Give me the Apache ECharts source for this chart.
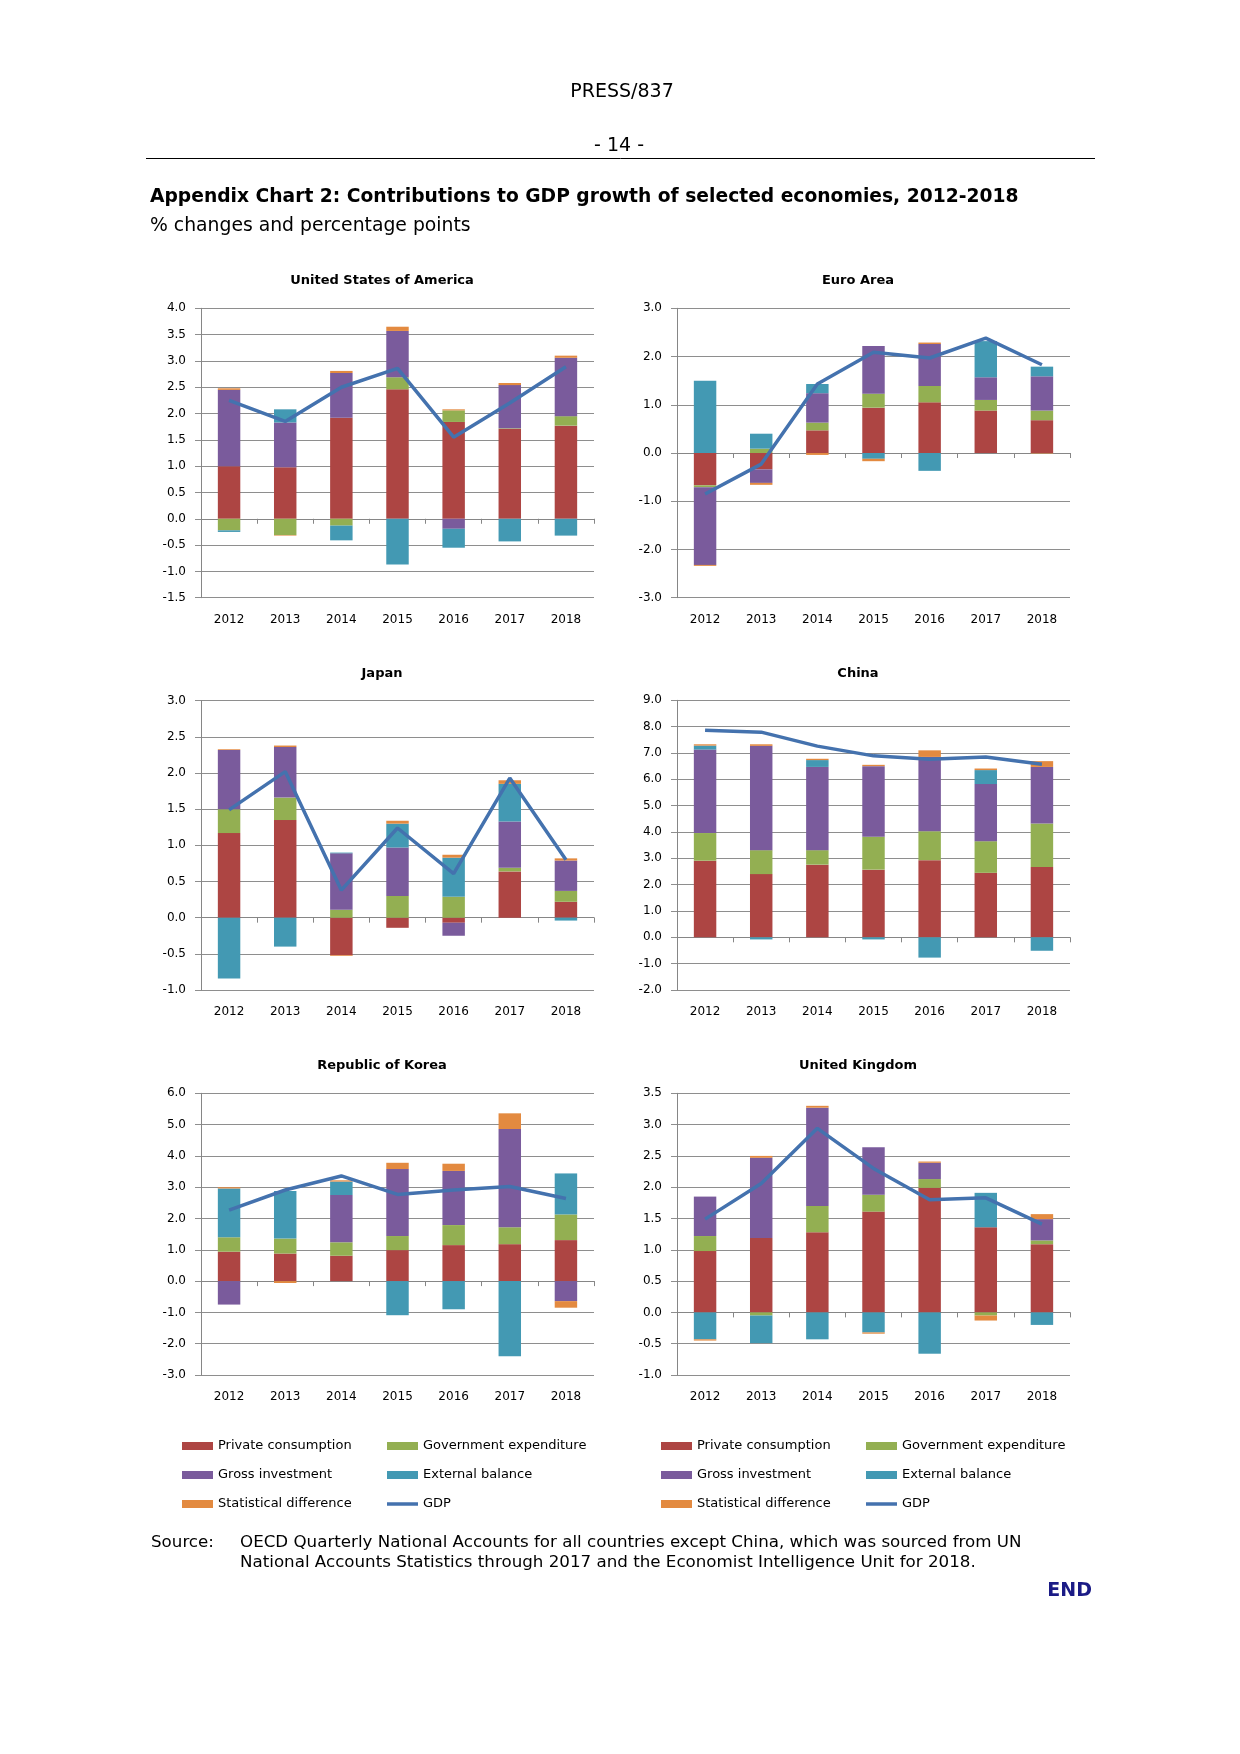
<!DOCTYPE html>
<html>
<head>
<meta charset="utf-8">
<script src="https://cdn.jsdelivr.net/npm/echarts@6/dist/echarts.min.js"></script>
<style>
html,body{margin:0;padding:0;background:#ffffff;}
#chart{width:1240px;height:1754px;}
</style>
</head>
<body>
<div id="chart"></div>
<script>
// ---------------- DATA ----------------
const YEARS = ['2012','2013','2014','2015','2016','2017','2018'];
const SERIES_NAMES = ['Private consumption','Government expenditure','Gross investment','External balance','Statistical difference','GDP'];

// United States of America
const US_PC   = [1.00, 0.98, 1.92, 2.46, 1.84, 1.71, 1.77];
const US_GOV  = [-0.22, -0.31, -0.13, 0.23, 0.22, 0.01, 0.18];
const US_INV  = [1.45, 0.85, 0.85, 0.88, -0.19, 0.82, 1.11];
const US_EXT  = [-0.03, 0.25, -0.28, -0.87, -0.36, -0.43, -0.32];
const US_STAT = [0.03, -0.01, 0.04, 0.08, 0.02, 0.04, 0.04];
const US_GDP  = [2.25, 1.85, 2.50, 2.86, 1.55, 2.20, 2.89];

// Euro Area
const EA_PC   = [-0.67, -0.34, 0.47, 0.94, 1.05, 0.88, 0.68];
const EA_GOV  = [-0.04, 0.09, 0.16, 0.29, 0.34, 0.22, 0.20];
const EA_INV  = [-1.61, -0.28, 0.61, 0.99, 0.87, 0.47, 0.71];
const EA_EXT  = [1.50, 0.31, 0.19, -0.12, -0.37, 0.75, 0.20];
const EA_STAT = [-0.02, -0.04, -0.04, -0.05, 0.03, 0.00, -0.01];
const EA_GDP  = [-0.85, -0.23, 1.43, 2.09, 1.97, 2.38, 1.83];

// Japan
const JP_PC   = [1.17, 1.35, -0.52, -0.14, -0.07, 0.64, 0.22];
const JP_GOV  = [0.33, 0.31, 0.11, 0.30, 0.29, 0.05, 0.15];
const JP_INV  = [0.82, 0.70, 0.78, 0.67, -0.18, 0.64, 0.42];
const JP_EXT  = [-0.84, -0.40, 0.01, 0.33, 0.54, 0.52, -0.04];
const JP_STAT = [0.01, 0.02, -0.01, 0.04, 0.04, 0.05, 0.03];
const JP_GDP  = [1.49, 2.02, 0.38, 1.24, 0.61, 1.93, 0.80];

// China
const CN_PC   = [2.91, 2.40, 2.76, 2.57, 2.93, 2.45, 2.67];
const CN_GOV  = [1.05, 0.91, 0.55, 1.25, 1.10, 1.20, 1.65];
const CN_INV  = [3.17, 3.96, 3.16, 2.68, 2.82, 2.17, 2.15];
const CN_EXT  = [0.15, -0.08, 0.26, -0.08, -0.77, 0.53, -0.51];
const CN_STAT = [0.05, 0.06, 0.05, 0.05, 0.25, 0.06, 0.22];
const CN_GDP  = [7.86, 7.79, 7.26, 6.89, 6.76, 6.85, 6.57];

// Republic of Korea
const KR_PC   = [0.94, 0.88, 0.81, 0.99, 1.15, 1.18, 1.31];
const KR_GOV  = [0.46, 0.48, 0.43, 0.45, 0.64, 0.54, 0.82];
const KR_INV  = [-0.75, 0.00, 1.51, 2.14, 1.73, 3.14, -0.64];
const KR_EXT  = [1.56, 1.52, 0.43, -1.09, -0.90, -2.40, 1.31];
const KR_STAT = [0.04, -0.06, 0.04, 0.20, 0.23, 0.50, -0.21];
const KR_GDP  = [2.27, 2.91, 3.36, 2.77, 2.91, 3.02, 2.64];

// United Kingdom
const UK_PC   = [0.98, 1.19, 1.28, 1.61, 1.99, 1.36, 1.09];
const UK_GOV  = [0.24, -0.05, 0.42, 0.27, 0.14, -0.05, 0.06];
const UK_INV  = [0.63, 1.28, 1.57, 0.76, 0.26, 0.00, 0.34];
const UK_EXT  = [-0.43, -0.44, -0.43, -0.32, -0.66, 0.55, -0.20];
const UK_STAT = [-0.02, 0.03, 0.03, -0.02, 0.02, -0.08, 0.08];
const UK_GDP  = [1.49, 2.06, 2.94, 2.30, 1.80, 1.83, 1.41];

// ---------------- LAYOUT / STYLE ----------------
const FONT = '"DejaVu Sans", Verdana, sans-serif';
const COLORS = ['#AD4543', '#93AF52', '#7A5B9C', '#4399B3', '#E38A40', '#4472AE'];
const GRID_COLOR = '#8E8E8E';

const panels = [
  {title:'United States of America', data:[US_PC,US_GOV,US_INV,US_EXT,US_STAT,US_GDP], min:-1.5, max:4.0, interval:0.5, left:201, top:308.3, height:289.4, tx:382, ty:281},
  {title:'Euro Area', data:[EA_PC,EA_GOV,EA_INV,EA_EXT,EA_STAT,EA_GDP], min:-3, max:3, interval:1, left:677, top:308.3, height:289.4, tx:858, ty:281},
  {title:'Japan', data:[JP_PC,JP_GOV,JP_INV,JP_EXT,JP_STAT,JP_GDP], min:-1.0, max:3.0, interval:0.5, left:201, top:700.7, height:289.3, tx:382, ty:674},
  {title:'China', data:[CN_PC,CN_GOV,CN_INV,CN_EXT,CN_STAT,CN_GDP], min:-2, max:9, interval:1, left:677, top:700.3, height:289.7, tx:858, ty:674},
  {title:'Republic of Korea', data:[KR_PC,KR_GOV,KR_INV,KR_EXT,KR_STAT,KR_GDP], min:-3, max:6, interval:1, left:201, top:1093.3, height:281.7, tx:382, ty:1065.5},
  {title:'United Kingdom', data:[UK_PC,UK_GOV,UK_INV,UK_EXT,UK_STAT,UK_GDP], min:-1.0, max:3.5, interval:0.5, left:677, top:1093.3, height:281.7, tx:858, ty:1065.5}
];
const GRID_W = 393;

const grids = [], xAxes = [], yAxes = [], series = [], graphics = [];

panels.forEach((p, i) => {
  grids.push({left:p.left, top:p.top, width:GRID_W, height:p.height, containLabel:false});
  // bottom axis: labels only
  xAxes.push({
    type:'category', gridIndex:i, data:YEARS, position:'bottom',
    axisLine:{show:false, onZero:false}, axisTick:{show:false},
    axisLabel:{fontSize:12, color:'#000', fontFamily:FONT, margin:16},
    splitLine:{show:false}
  });
  // zero line with ticks
  xAxes.push({
    type:'category', gridIndex:i, data:YEARS, position:'top',
    axisLine:{show:true, onZero:true, lineStyle:{color:'#868686', width:1}},
    axisTick:{show:true, inside:true, length:5, lineStyle:{color:'#868686', width:1}},
    axisLabel:{show:false}, splitLine:{show:false}
  });
  yAxes.push({
    type:'value', gridIndex:i, min:p.min, max:p.max, interval:p.interval,
    axisLine:{show:true, lineStyle:{color:'#868686', width:1}},
    axisTick:{show:true, length:6, lineStyle:{color:GRID_COLOR, width:1}},
    axisLabel:{fontSize:12, color:'#000', fontFamily:FONT, margin:15, formatter:v => v.toFixed(1)},
    splitLine:{show:true, lineStyle:{color:GRID_COLOR, width:1}}
  });
  for (let k = 0; k < 5; k++) {
    series.push({
      name:SERIES_NAMES[k], type:'bar', stack:'panel'+i,
      xAxisIndex:2*i, yAxisIndex:i, data:p.data[k],
      barWidth:'40%', itemStyle:{color:COLORS[k]},
      emphasis:{disabled:true}
    });
  }
  series.push({
    name:'GDP', type:'line', xAxisIndex:2*i, yAxisIndex:i, data:p.data[5],
    symbol:'none', showSymbol:false, z:5,
    lineStyle:{color:COLORS[5], width:3.5}, itemStyle:{color:COLORS[5]},
    emphasis:{disabled:true}
  });
  graphics.push({
    type:'text', x:p.tx, y:p.ty,
    style:{text:p.title, font:'bold 13px ' + FONT, fill:'#000', textAlign:'center', textVerticalAlign:'middle'}
  });
});

// page texts
graphics.push(
  {type:'text', x:622, y:92, style:{text:'PRESS/837', font:'19px ' + FONT, fill:'#000', textAlign:'center', textVerticalAlign:'middle'}},
  {type:'text', x:619, y:146, style:{text:'- 14 -', font:'19px ' + FONT, fill:'#000', textAlign:'center', textVerticalAlign:'middle'}},
  {type:'line', shape:{x1:146, y1:158.5, x2:1095, y2:158.5}, style:{stroke:'#000', lineWidth:1}},
  {type:'text', x:150, y:197, style:{text:'Appendix Chart 2: Contributions to GDP growth of selected economies, 2012-2018', font:'bold 18.7px ' + FONT, fill:'#000', textAlign:'left', textVerticalAlign:'middle'}},
  {type:'text', x:150, y:226, style:{text:'% changes and percentage points', font:'18.8px ' + FONT, fill:'#000', textAlign:'left', textVerticalAlign:'middle'}},
  {type:'text', x:151, y:1543, style:{text:'Source:', font:'16.7px ' + FONT, fill:'#000', textAlign:'left', textVerticalAlign:'middle'}},
  {type:'text', x:240, y:1543, style:{text:'OECD Quarterly National Accounts for all countries except China, which was sourced from UN', font:'16.7px ' + FONT, fill:'#000', textAlign:'left', textVerticalAlign:'middle'}},
  {type:'text', x:240, y:1563, style:{text:'National Accounts Statistics through 2017 and the Economist Intelligence Unit for 2018.', font:'16.7px ' + FONT, fill:'#000', textAlign:'left', textVerticalAlign:'middle'}},
  {type:'text', x:1092, y:1591, style:{text:'END', font:'bold 19px ' + FONT, fill:'#1B1B86', textAlign:'right', textVerticalAlign:'middle'}}
);

const LINE_ICON = 'path://M0,0 L31,0 L31,3.5 L0,3.5 Z';
function legendBlock(left, names) {
  return {
    left:left, top:1439, orient:'vertical', padding:0,
    itemWidth:31, itemHeight:8, itemGap:15, symbolKeepAspect:true,
    textStyle:{fontSize:13, fontFamily:FONT, color:'#000', lineHeight:14},
    data:names.map(n => n === 'GDP' ? {name:n, icon:LINE_ICON} : {name:n, icon:'rect'})
  };
}
const COL1 = ['Private consumption','Gross investment','Statistical difference'];
const COL2 = ['Government expenditure','External balance','GDP'];

const option = {
  animation:false,
  backgroundColor:'#ffffff',
  grid:grids,
  xAxis:xAxes,
  yAxis:yAxes,
  series:series,
  legend:[legendBlock(182, COL1), legendBlock(387, COL2), legendBlock(661, COL1), legendBlock(866, COL2)],
  graphic:graphics
};

const chart = echarts.init(document.getElementById('chart'), null, {renderer:'canvas', width:1240, height:1754});
chart.setOption(option);
</script>
</body>
</html>
